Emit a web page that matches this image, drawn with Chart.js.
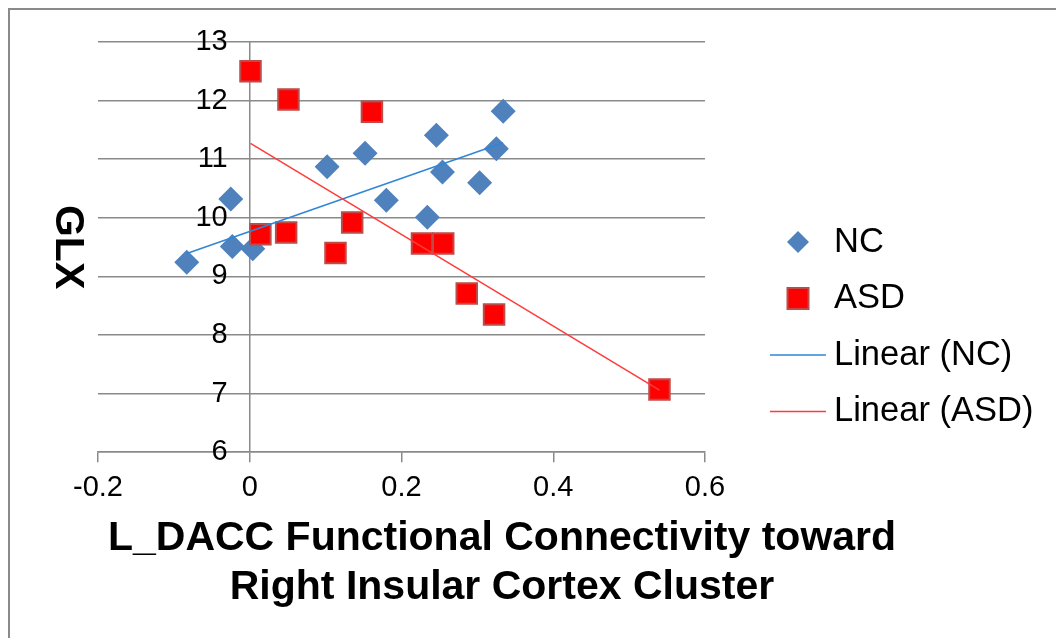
<!DOCTYPE html>
<html>
<head>
<meta charset="utf-8">
<script src="https://cdn.jsdelivr.net/npm/chart.js@4.4.1/dist/chart.umd.min.js"></script>
<style>
html, body { margin: 0; padding: 0; background: #fff; }
#wrap { position: relative; width: 1056px; height: 638px; overflow: hidden; }
#frame { position: absolute; left: 8px; top: 8px; width: 1200px; height: 800px;
         border-left: 2px solid #8a8a8a; border-top: 2px solid #8a8a8a; }
canvas { position: absolute; left: 0; top: 0; }
</style>
</head>
<body>
<div id="wrap">
  <div id="frame"></div>
  <canvas id="glxChart" width="1056" height="638"></canvas>
</div>
<script>
// NC group
const ncX = [-0.083, -0.025, -0.023, 0.004, 0.102, 0.152, 0.180, 0.234, 0.246, 0.254, 0.303, 0.325, 0.334];
const ncY = [9.24, 10.32, 9.51, 9.47, 10.87, 11.10, 10.30, 10.01, 11.41, 10.78, 10.60, 11.18, 11.82];

// ASD group
const asdX = [0.001, 0.014, 0.048, 0.051, 0.113, 0.135, 0.161, 0.227, 0.255, 0.286, 0.322, 0.540];
const asdY = [12.50, 9.72, 9.75, 12.02, 9.40, 9.92, 11.81, 9.56, 9.56, 8.71, 8.35, 7.07];

// linear trend lines, ends at the min / max x of each group
const ncFitX = [-0.083, 0.334];
const ncFitY = [9.39, 11.28];
const asdFitX = [0.001, 0.540];
const asdFitY = [11.27, 7.06];

const xTicks = [-0.2, 0, 0.2, 0.4, 0.6];
const yTicks = [6, 7, 8, 9, 10, 11, 12, 13];

const xTitle = ['L_DACC Functional Connectivity toward', 'Right Insular Cortex Cluster'];
const yTitle = 'GLX';

const FONT = '"Liberation Sans", Arial, sans-serif';
const gridGray = '#8a8a8a';

const toPoints = (xs, ys) => xs.map((x, i) => ({ x, y: ys[i] }));

// axis titles drawn by hand: the y title reads top-down, the x title sits off-centre
const axisTitles = {
    id: 'axisTitles',
    afterDraw(chart, args, opts) {
        const { ctx, chartArea } = chart;
        ctx.save();
        ctx.fillStyle = '#000';
        ctx.font = `bold ${opts.size}px ${FONT}`;
        ctx.textAlign = 'center';

        ctx.save();
        ctx.translate(opts.yTitleX, (chartArea.top + chartArea.bottom) / 2);
        ctx.rotate(Math.PI / 2);
        ctx.textBaseline = 'middle';
        ctx.fillText(yTitle, 0, 0);
        ctx.restore();

        ctx.textBaseline = 'alphabetic';
        xTitle.forEach((line, i) => {
            ctx.fillText(line, opts.xTitleX, opts.xTitleY + i * opts.lineGap);
        });
        ctx.restore();
    }
};

// legend on the right, markers match the dataset styles
const sideLegend = {
    id: 'sideLegend',
    afterDraw(chart, args, opts) {
        const { ctx } = chart;
        ctx.save();
        ctx.font = `${opts.size}px ${FONT}`;
        ctx.textBaseline = 'middle';
        ctx.textAlign = 'left';
        chart.data.datasets.forEach((ds, i) => {
            const y = opts.top + i * opts.rowGap;
            const cx = opts.markerX;
            ctx.beginPath();
            if (ds.pointStyle === 'rectRot') {
                const r = 11;
                ctx.moveTo(cx, y - r); ctx.lineTo(cx + r, y); ctx.lineTo(cx, y + r); ctx.lineTo(cx - r, y);
                ctx.closePath();
                ctx.fillStyle = ds.backgroundColor;
                ctx.fill();
            } else if (ds.pointStyle === 'rect') {
                const h = 10.5;
                ctx.rect(cx - h, y - h, 2 * h, 2 * h);
                ctx.fillStyle = ds.backgroundColor;
                ctx.fill();
                ctx.lineWidth = ds.borderWidth;
                ctx.strokeStyle = ds.borderColor;
                ctx.stroke();
            } else {
                ctx.moveTo(cx - 28, y); ctx.lineTo(cx + 28, y);
                ctx.lineWidth = ds.borderWidth;
                ctx.strokeStyle = ds.borderColor;
                ctx.stroke();
            }
            ctx.fillStyle = '#000';
            ctx.fillText(ds.label, opts.textX, y);
        });
        ctx.restore();
    }
};

new Chart(document.getElementById('glxChart'), {
    type: 'scatter',
    data: {
        datasets: [
            {
                label: 'NC', data: toPoints(ncX, ncY),
                pointStyle: 'rectRot', pointRadius: 12.5, pointHoverRadius: 12.5,
                backgroundColor: '#4F81BD', borderColor: '#4F81BD', borderWidth: 0, order: 3
            },
            {
                label: 'ASD', data: toPoints(asdX, asdY),
                pointStyle: 'rect', pointRadius: 14.5, pointHoverRadius: 14.5,
                backgroundColor: '#FF0000', borderColor: '#BE4B48', borderWidth: 2, order: 2
            },
            {
                label: 'Linear (NC)', data: toPoints(ncFitX, ncFitY),
                showLine: true, pointRadius: 0, borderColor: '#2F86D6', borderWidth: 1.5, order: 1
            },
            {
                label: 'Linear (ASD)', data: toPoints(asdFitX, asdFitY),
                showLine: true, pointRadius: 0, borderColor: '#FF3B3B', borderWidth: 1.5, order: 0
            }
        ]
    },
    options: {
        responsive: false,
        animation: false,
        layout: { padding: { left: 98, right: 351, top: 42, bottom: 125 } },
        scales: {
            x: {
                type: 'linear', position: 'bottom', min: -0.2, max: 0.6,
                afterBuildTicks: axis => { axis.ticks = xTicks.map(v => ({ value: v })); },
                ticks: { font: { family: FONT, size: 29 }, color: '#000', padding: 8, callback: v => String(v) },
                // only the x = 0 line is drawn across the plot
                grid: {
                    color: c => (c.tick && c.tick.value === 0) ? gridGray : 'rgba(0,0,0,0)',
                    tickColor: gridGray, lineWidth: 1.5, tickLength: 10
                },
                border: { display: true, color: gridGray, width: 1.5 }
            },
            y: {
                type: 'linear', position: { x: -0.029 }, min: 6, max: 13,
                afterBuildTicks: axis => { axis.ticks = yTicks.map(v => ({ value: v })); },
                ticks: { font: { family: FONT, size: 29 }, color: '#000', padding: 0 },
                grid: { color: gridGray, lineWidth: 1.5, drawTicks: false },
                border: { display: false }
            }
        },
        plugins: {
            legend: { display: false },
            tooltip: { enabled: false },
            axisTitles: { size: 41, yTitleX: 67, xTitleX: 502, xTitleY: 550, lineGap: 49 },
            sideLegend: { size: 34.5, markerX: 798, textX: 834, top: 242, rowGap: 56.5 }
        }
    },
    plugins: [axisTitles, sideLegend]
});
</script>
</body>
</html>
